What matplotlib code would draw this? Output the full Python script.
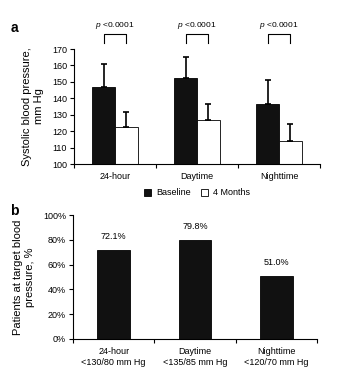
import matplotlib
matplotlib.use("Agg")
import matplotlib.pyplot as plt
import numpy as np

plt.rcParams['font.family'] = ['Liberation Sans', 'DejaVu Sans']
plt.rcParams['mathtext.fontset'] = 'custom'
plt.rcParams['mathtext.it'] = 'Liberation Sans:italic'
plt.rcParams['mathtext.rm'] = 'Liberation Sans'

categories_a = ["24-hour", "Daytime", "Nighttime"]
baseline = [147, 152.5, 136.5]
baseline_err = [14, 12.5, 14.5]
months4 = [122.5, 126.5, 114]
months4_err = [9, 10, 10.5]
p_labels = ["$\\it{p}$ <0.0001", "$\\it{p}$ <0.0001", "$\\it{p}$ <0.0001"]

categories_b = ["24-hour\n<130/80 mm Hg", "Daytime\n<135/85 mm Hg", "Nighttime\n<120/70 mm Hg"]
target_pct = [72.1, 79.8, 51.0]
target_labels = ["72.1%", "79.8%", "51.0%"]

fig = plt.figure(figsize=(3.45, 3.8), dpi=100)
fs = 6.5

# Panel a
ax = fig.add_axes([0.2145, 0.5684, 0.713, 0.3026])
x = np.arange(len(categories_a)) + 0.5
w = 0.28
ax.bar(x - w/2, baseline, w, color='#111111', edgecolor='black', linewidth=0.6,
       yerr=[np.zeros(3), baseline_err], error_kw=dict(ecolor='black', elinewidth=1.2, capsize=2, capthick=1.2),
       label='Baseline', zorder=2)
ax.bar(x + w/2, months4, w, color='white', edgecolor='black', linewidth=0.6,
       yerr=[np.zeros(3), months4_err], error_kw=dict(ecolor='black', elinewidth=1.2, capsize=2, capthick=1.2),
       label='4 Months', zorder=2)
ax.set_ylim(100, 170)
ax.set_xlim(0, 3)
ax.set_yticks(np.arange(100, 171, 10))
ax.set_xticks([0, 1, 2, 3])
ax.set_xticklabels([])
ax.set_xticks(x, minor=True)
ax.set_xticklabels(categories_a, minor=True)
ax.tick_params(axis='x', which='minor', length=0, pad=6, labelsize=fs)
ax.tick_params(axis='x', which='major', length=3, width=0.8)
ax.tick_params(axis='y', length=3, width=0.8, labelsize=fs, pad=2)
for s in ['top', 'right']:
    ax.spines[s].set_visible(False)
for s in ['left', 'bottom']:
    ax.spines[s].set_linewidth(0.8)
ax.set_ylabel("Systolic blood pressure,\nmm Hg", fontsize=8, labelpad=6)
for xi, pl in zip(x, p_labels):
    x0, x1 = xi - w/2, xi + w/2
    ax.plot([x0, x0, x1, x1], [173.5, 179, 179, 173.5], color='black', lw=0.8, clip_on=False)
    ax.text(xi, 181, pl, ha='center', va='bottom', fontsize=6, clip_on=False)
leg = ax.legend(loc='center', bbox_to_anchor=(0.5, -0.25), ncol=2, frameon=False,
                fontsize=6.5, handlelength=0.8, handleheight=0.8, columnspacing=1.2, handletextpad=0.5)
fig.text(0.03, 0.915, "a", fontsize=10, fontweight='bold')

# Panel b
ax2 = fig.add_axes([0.2116, 0.1079, 0.7074, 0.3263])
xb = np.arange(len(categories_b)) + 0.5
ax2.bar(xb, target_pct, 0.4, color='#111111', edgecolor='black', linewidth=0.6, zorder=2)
for xi, v, t in zip(xb, target_pct, target_labels):
    ax2.text(xi, v + 7, t, ha='center', va='bottom', fontsize=fs)
ax2.set_ylim(0, 100)
ax2.set_xlim(0, 3)
ax2.set_yticks(np.arange(0, 101, 20))
ax2.set_yticklabels([f"{v}%" for v in range(0, 101, 20)])
ax2.set_xticks([0, 1, 2, 3])
ax2.set_xticklabels([])
ax2.set_xticks(xb, minor=True)
ax2.set_xticklabels(categories_b, minor=True)
ax2.tick_params(axis='x', which='minor', length=0, pad=6, labelsize=fs)
ax2.tick_params(axis='x', which='major', length=3, width=0.8)
ax2.tick_params(axis='y', length=3, width=0.8, labelsize=fs, pad=2)
for s in ['top', 'right']:
    ax2.spines[s].set_visible(False)
for s in ['left', 'bottom']:
    ax2.spines[s].set_linewidth(0.8)
ax2.set_ylabel("Patients at target blood\npressure, %", fontsize=8, labelpad=6)
fig.text(0.03, 0.435, "b", fontsize=10, fontweight='bold')

fig.savefig("out.png", dpi=100)
